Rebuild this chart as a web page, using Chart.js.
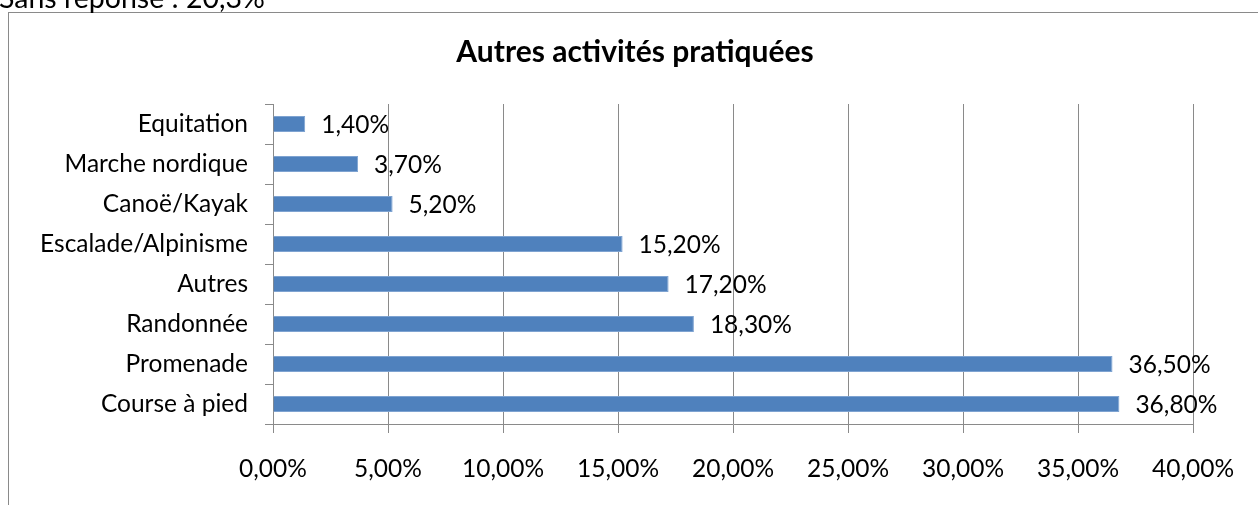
<!DOCTYPE html>
<html>
<head>
<meta charset="utf-8">
<script src="https://cdn.jsdelivr.net/npm/chart.js@4.4.1/dist/chart.umd.min.js"></script>
<style>
  html, body { margin: 0; padding: 0; background: #fff; }
  #wrap { position: relative; width: 1258px; height: 505px; }
</style>
</head>
<body>
<div id="wrap"><canvas id="c" width="1258" height="505"></canvas></div>
<script>
const categories = ["Equitation", "Marche nordique", "Canoë/Kayak", "Escalade/Alpinisme", "Autres", "Randonnée", "Promenade", "Course à pied"];
const values = [1.4, 3.7, 5.2, 15.2, 17.2, 18.3, 36.5, 36.8];
const xTicks = [0, 5, 10, 15, 20, 25, 30, 35, 40];
const titleText = "Autres activités pratiquées";
const noteText = "Sans réponse : 20,3%";

const FONT = "Lato, 'Open Sans', sans-serif";
const GRID = "#8a8a8a";
const fmt = v => v.toFixed(2).replace('.', ',') + '%';

const decor = {
  id: 'decor',
  beforeDraw(chart) {
    const ctx = chart.ctx;
    ctx.save();
    ctx.fillStyle = '#fff';
    ctx.fillRect(0, 0, chart.width, chart.height);
    ctx.strokeStyle = GRID;
    ctx.lineWidth = 1;
    ctx.strokeRect(8.5, 12.5, 1400, 600);
    ctx.fillStyle = '#000';
    ctx.font = "28.5px " + FONT;
    ctx.textBaseline = 'alphabetic';
    ctx.textAlign = 'left';
    ctx.fillText(noteText, -1, 8);
    ctx.font = "bold 30px " + FONT;
    ctx.textAlign = 'center';
    ctx.fillText(titleText, 635, 62);
    ctx.restore();
  },
  afterDatasetsDraw(chart) {
    const ctx = chart.ctx;
    const meta = chart.getDatasetMeta(0);
    ctx.save();
    ctx.fillStyle = '#000';
    ctx.font = "24.5px " + FONT;
    ctx.textBaseline = 'middle';
    ctx.textAlign = 'left';
    meta.data.forEach((bar, i) => {
      ctx.fillText(fmt(values[i]), bar.x + 16, bar.y + 1);
    });
    ctx.restore();
  }
};

new Chart(document.getElementById('c'), {
  type: 'bar',
  data: {
    labels: categories,
    datasets: [{
      data: values,
      backgroundColor: '#4f81bd',
      borderColor: '#7ea3d1',
      borderWidth: 1,
      categoryPercentage: 1,
      barPercentage: 0.4
    }]
  },
  options: {
    indexAxis: 'y',
    responsive: false,
    animation: false,
    devicePixelRatio: 1,
    layout: { padding: { top: 104, right: 65, bottom: 0, left: 0 } },
    plugins: {
      legend: { display: false },
      tooltip: { enabled: false },
      title: { display: false }
    },
    scales: {
      x: {
        min: 0, max: 40,
        afterBuildTicks(scale) { scale.ticks = xTicks.map(v => ({ value: v })); },
        afterFit(scale) { scale.height = 81; },
        grid: { color: GRID, lineWidth: 1, drawTicks: true, tickLength: 9, tickColor: GRID },
        border: { display: true, color: GRID, width: 1 },
        ticks: { color: '#000', font: { family: FONT, size: 24.5 }, padding: 21, callback: v => fmt(v), maxRotation: 0 }
      },
      y: {
        afterFit(scale) { scale.width = 273; },
        grid: { drawOnChartArea: false, drawTicks: true, tickLength: 8, tickColor: GRID, offset: true },
        border: { display: true, color: GRID, width: 1 },
        ticks: { color: '#000', font: { family: FONT, size: 24.5 }, padding: 17 }
      }
    }
  },
  plugins: [decor]
});
</script>
</body>
</html>
